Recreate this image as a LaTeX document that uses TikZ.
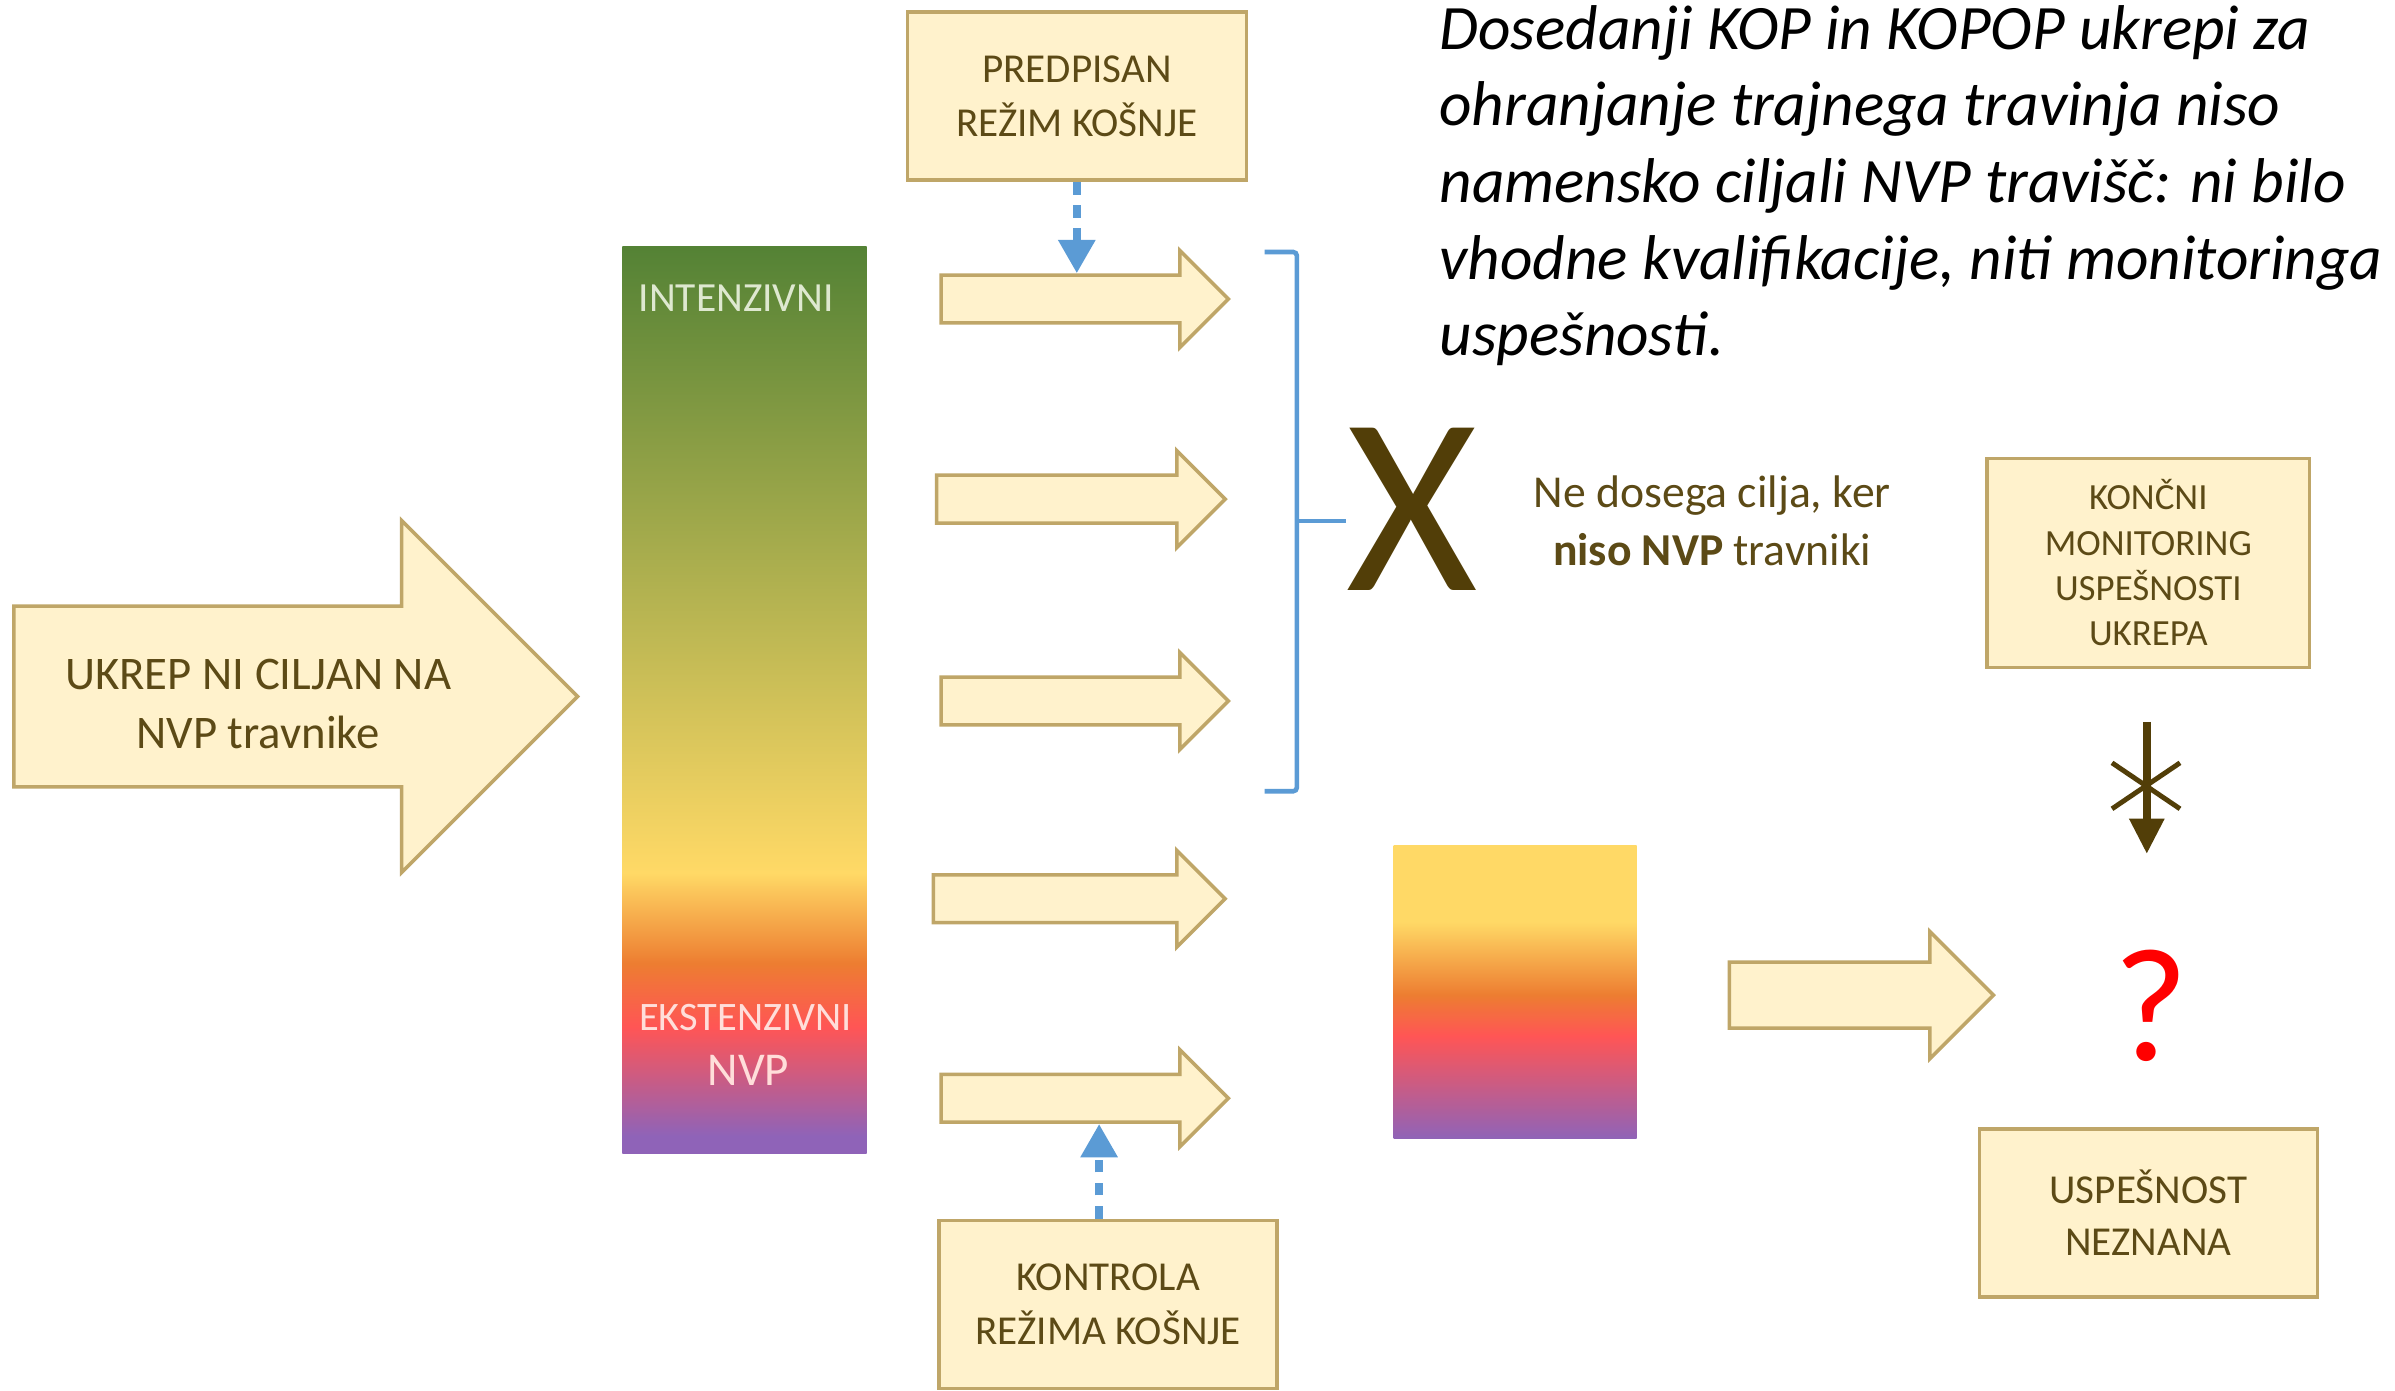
\documentclass[tikz,border=0pt]{standalone}
\usepackage{fontspec}
\setmainfont{Carlito}
\usetikzlibrary{shapes.arrows, arrows.meta, positioning, calc}
\definecolor{cBoxFill}{RGB}{255, 242, 204}
\definecolor{cBoxDraw}{RGB}{191, 166, 104}
\definecolor{cText}{RGB}{92, 74, 22}
\definecolor{cDark}{RGB}{82, 62, 8}
\definecolor{cBlue}{RGB}{91, 155, 213}
\definecolor{cGreen}{RGB}{84, 130, 53}
\definecolor{cYellow}{RGB}{255, 217, 102}
\definecolor{cOrange}{RGB}{237, 125, 49}
\definecolor{cRed}{RGB}{255, 85, 85}
\definecolor{cPurple}{RGB}{143, 99, 184}
\definecolor{cQuest}{RGB}{255, 0, 0}
\definecolor{cLabelG}{RGB}{222, 232, 208}
\definecolor{cLabelR}{RGB}{255, 222, 218}
% 25bp = spodnji rob, 75bp = zgornji rob
\pgfdeclareverticalshading{mowScale}{100bp}{color(0bp)=(cPurple); color(26bp)=(cPurple); color(32bp)=(cRed); color(35.5bp)=(cOrange); color(40.5bp)=(cYellow); color(75bp)=(cGreen); color(100bp)=(cGreen)}
\pgfdeclareverticalshading{mowSmall}{100bp}{color(0bp)=(cPurple); color(25bp)=(cPurple); color(42.5bp)=(cRed); color(49.5bp)=(cOrange); color(62bp)=(cYellow); color(100bp)=(cYellow)}
\tikzset{
    % --- okvirji ---
    infoBox/.style={
        rectangle, draw=cBoxDraw, fill=cBoxFill, line width=1pt,
        align=center, text=cText, inner sep=2pt,
        minimum width=3.38cm, minimum height=1.68cm,
        font=\fontsize{11.7}{15.2}\selectfont
    },
    % --- blok puscice (sirina telesa = 2 x inner ysep) ---
    blockArrow/.style={
        single arrow, draw=cBoxDraw, fill=cBoxFill, line width=1pt,
        single arrow tip angle=90, anchor=tail, inner xsep=0pt
    },
    flowArrow/.style={
        blockArrow, minimum height=2.872cm, inner ysep=0.2215cm,
        single arrow head extend=0.245cm
    },
    % --- lestvica ---
    scaleBar/.style={
        rectangle, shade, anchor=north west, inner sep=0pt
    },
    barLabel/.style={
        inner sep=0pt, font=\fontsize{11.8}{14}\selectfont
    },
    %
    % --- besedila ---
    arrowText/.style={
        align=center, text=cText, inner sep=0pt,
        font=\fontsize{13.3}{16.95}\selectfont
    },
    noteText/.style={
        align=left, text=black, inner sep=0pt,
        font=\fontsize{18}{21.8}\selectfont\itshape
    },
    reasonText/.style={
        align=center, text=cText, inner sep=0pt,
        font=\fontsize{13}{16.5}\selectfont
    },
    %
    % --- povezave ---
    blueDotted/.style={
        draw=cBlue, line width=2.4pt, dash pattern=on 3.6pt off 3pt,
        -{Triangle[length=9.5pt, width=10pt]}
    },
    bracketLine/.style={
        draw=cBlue, line width=1.3pt, rounded corners=1pt
    },
    crossArrow/.style={
        draw=cDark, line width=2.2pt, -{Triangle[length=10pt, width=9.5pt]}
    },
    crossLine/.style={
        draw=cDark, line width=1.4pt
    }
}
\begin{document}
\begin{tikzpicture}

	\path[use as bounding box, fill=white] (0,0) rectangle (23.95,-13.9);

	% =========================================
	% 1. ukrep in lestvica
	% =========================================

	% glavna puscica
	\node[blockArrow, minimum height=5.636cm, inner ysep=0.886cm,
		single arrow head extend=0.8555cm] (big) at (0.122,-6.965) {};
	\node[arrowText] (bigtext) at (2.581,-7.041) {UKREP NI CILJAN NA\\NVP travnike};

	% lestvica intenzivnosti
	\node[scaleBar, shading=mowScale, minimum width=2.443cm, minimum height=9.073cm] (scale) at (6.217,-2.459) {};
	\node[barLabel, text=cLabelG] (intens) at (7.362,-2.978) {INTENZIVNI};
	\node[barLabel, text=cLabelR, font=\fontsize{11.5}{14}\selectfont] (extens) at (7.454,-10.172) {EKSTENZIVNI};
	\node[barLabel, text=cLabelR, font=\fontsize{13.4}{16}\selectfont] (nvp) at (7.484,-10.707) {NVP};

	% =========================================
	% 2. puscice do travnikov
	% =========================================

	\node[flowArrow] (a1) at (9.394,-2.990) {};
	\node[flowArrow, minimum height=2.887cm] (a2) at (9.348,-4.991) {};
	\node[flowArrow] (a3) at (9.394,-7.010) {};
	\node[flowArrow, minimum height=2.917cm] (a4) at (9.317,-8.987) {};
	\node[flowArrow] (a5) at (9.394,-10.982) {};

	% rezim kosnje
	\node[infoBox, minimum width=3.391cm] (pred) at (10.768,-0.962) {PREDPISAN\\REŽIM KOŠNJE};
	\node[infoBox] (ctrl) at (11.081,-13.044) {KONTROLA\\REŽIMA KOŠNJE};

	\draw[blueDotted] (pred.south) -- (pred.south |- a1.north);
	\coordinate (ctrlTop) at ($(ctrl.north)+(-0.09,0)$);
	\draw[blueDotted] (ctrlTop) -- (ctrlTop |- a5.south);

	% =========================================
	% 3. oklepaj in X
	% =========================================

	\node[inner sep=0pt, text=cDark, font=\fontsize{72}{80}\selectfont] (xmark) at (14.121,-5.094) {X};

	\draw[bracketLine] (12.647,-2.520) -- (12.968,-2.520) -- (12.968,-7.912) -- (12.647,-7.912);
	\coordinate (brMid) at (12.968,-5.208);
	\draw[bracketLine] (brMid) -- (brMid -| xmark.west);

	\node[reasonText] (reason) at (17.122,-5.208) {Ne dosega cilja, ker\\\textbf{niso NVP} travniki};

	% zadnja vrstica na baseline
	\node[noteText, anchor=base west] (note) at (14.388,-3.556) {%
		Dosedanji KOP in KOPOP ukrepi za\\
		ohranjanje trajnega travinja niso\\
		namensko ciljali NVP travišč: ni bilo\\
		vhodne kvalifikacije, niti monitoringa\\
		uspešnosti.};

	% =========================================
	% 4. ekstenzivni travniki -> uspesnost
	% =========================================

	\node[scaleBar, shading=mowSmall, minimum width=2.428cm, minimum height=2.933cm] (small) at (13.930,-8.447) {};

	\node[blockArrow, minimum height=2.642cm, inner ysep=0.313cm,
		single arrow head extend=0.3055cm] (a6) at (17.275,-9.951) {};

	\node[infoBox, minimum width=3.223cm, minimum height=2.093cm,
		font=\fontsize{10.5}{12.9}\selectfont] (konc) at (21.483,-5.629)
		{KONČNI\\MONITORING\\USPEŠNOSTI\\UKREPA};

	\node[inner sep=0pt, text=cQuest, font=\fontsize{46}{50}\selectfont] (quest) at (21.506,-10.055) {?};

	\node[infoBox, font=\fontsize{11.7}{14.8}\selectfont] (succ) at (21.483,-12.128) {USPEŠNOST\\NEZNANA};

	% precrtana puscica
	\coordinate (crossTop) at ($(konc.south)+(-0.015,-0.525)$);
	\coordinate (crossEnd) at ($(konc.south)+(-0.015,-1.845)$);
	\coordinate (crossMid) at ($(konc.south)+(-0.023,-1.165)$);
	\draw[crossArrow] (crossTop) -- (crossEnd);
	\draw[crossLine] ($(crossMid)+(-0.34,0.23)$) -- ($(crossMid)+(0.34,-0.23)$);
	\draw[crossLine] ($(crossMid)+(-0.34,-0.23)$) -- ($(crossMid)+(0.34,0.23)$);

\end{tikzpicture}
\end{document}
